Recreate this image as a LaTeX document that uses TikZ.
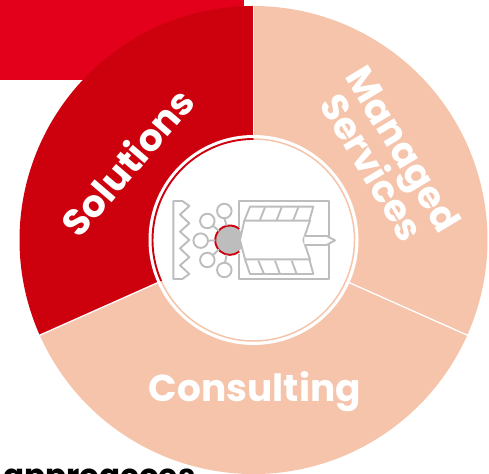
\documentclass[tikz,border=0pt]{standalone}
\usepackage{fontspec}
\usetikzlibrary{calc}
\setmainfont{Poppins}
\definecolor{topred}{HTML}{E2001A}
\definecolor{darkred}{HTML}{CD000D}
\definecolor{peach}{HTML}{F5C4AB}
\definecolor{icongray}{HTML}{BDBDBD}
\tikzset{
  seglabel/.style={text=white,font=\bfseries\fontsize{37.5}{37.5}\selectfont,inner sep=0pt,align=center},
  iconline/.style={draw=icongray,line width=1.9pt,line join=round},
  redline/.style={draw=darkred,line width=1.9pt},
  sectorline/.style={draw=white,line width=1.3pt}
}
\begin{document}
\begin{tikzpicture}[x=1pt,y=1pt]
\useasboundingbox (0,0) rectangle (489,473);
\begin{scope}
\clip (0,0) rectangle (489,473);
\fill[topred] (0,393) rectangle (244,473);
\coordinate (c) at (253.5,233);
\fill[darkred] (c) -- ++(90:234) arc[start angle=90,end angle=204,radius=234] -- cycle;
\fill[peach] (c) -- ++(204:234) arc[start angle=204,end angle=336,radius=234] -- cycle;
\fill[peach] (c) -- ++(-24:234) arc[start angle=-24,end angle=90,radius=234] -- cycle;
\draw[sectorline] (c) -- ++(90:235);
\draw[sectorline] (c) -- ++(204:235);
\draw[sectorline] (c) -- ++(-24:235);
\fill[white] (c) circle[radius=105];
\draw[peach,line width=1.5pt] ($(c)+(204:101)$) arc[start angle=204,end angle=450,radius=101];
\draw[redline] ($(c)+(90:101)$) arc[start angle=90,end angle=204,radius=101];
\node[seglabel,rotate=49.5] (sol) at (127,311) {Solutions};
\node[seglabel,rotate=-59,text width=200pt] (man) at (388,315) {Managed\\[-5pt]Services};
\node[seglabel] (con) at (255,81) {Consulting};
\node[anchor=base west,inner sep=0pt,font=\bfseries\fontsize{31}{31}\selectfont] (foot) at (3,-13.5) {approacoes};
\end{scope}
\begin{scope}[shift={(145,343)},x=0.3333pt,y=-0.3333pt]
\fill[icongray] (255,331) circle[radius=42];
\draw[redline] (283,297) arc[start angle=-50,end angle=-310,radius=44];
\draw[iconline] (282,290) -- (282,212) -- (553,212) -- (553,447) -- (282,447) -- (282,372);
\draw[iconline] (238,265) -- (245,287) (205,288) -- (222,303) (190,332) -- (211,331) (205,375) -- (222,358) (240,398) -- (245,374);
\foreach \px/\py/\nm in {238/243/a,187/273/b,167/332/d,187/390/e,238/420/f}
  \node[draw=icongray,line width=1.9pt,circle,minimum size=14.5pt,inner sep=0pt] (ic\nm) at (\px,\py) {};
\draw[iconline] (85,213) -- (112,213) -- (133,228) -- (105,254) -- (133,280) -- (105,305) -- (133,330) -- (105,355) -- (133,382) -- (105,406) -- (133,432) -- (112,447) -- (85,447) -- cycle;
\draw[iconline,fill=white] (298,272) -- (495,272) -- (475,330) -- (495,388) -- (300,388) -- (285,330) -- cycle;
\draw[iconline] (298,272) -- (315,230) -- (505,230) -- (493,272);
\draw[iconline] (345,270) -- (360,232) (395,270) -- (410,232) (445,270) -- (460,232);
\draw[iconline] (300,388) -- (315,432) -- (505,432) -- (493,388);
\draw[iconline] (340,392) -- (357,432) (390,392) -- (405,432) (440,392) -- (455,432);
\draw[iconline,fill=white] (478,318) -- (545,318) -- (570,331) -- (545,345) -- (478,345);
\end{scope}
\end{tikzpicture}
\end{document}
